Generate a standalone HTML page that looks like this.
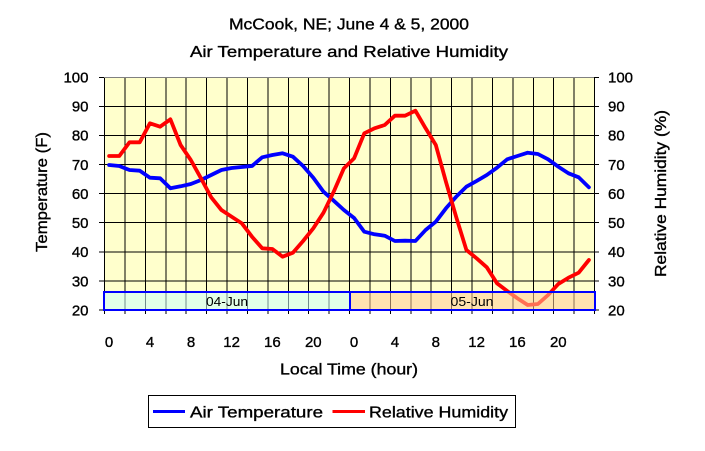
<!DOCTYPE html>
<html><head><meta charset="utf-8"><style>
html,body{margin:0;padding:0;background:#fff;}
svg{display:block;}
text{font-family:"Liberation Sans",Arial,sans-serif;fill:#000;}
.b{stroke:#000;stroke-width:0.35;}
</style></head><body>
<svg width="705" height="451" viewBox="0 0 705 451" xmlns="http://www.w3.org/2000/svg">
<rect width="705" height="451" fill="#fff"/>
<!-- Title -->
<text class="b" x="349" y="29.5" font-size="16" text-anchor="middle" textLength="240" lengthAdjust="spacingAndGlyphs">McCook, NE; June 4 &amp; 5, 2000</text>
<text class="b" x="349" y="57" font-size="16" text-anchor="middle" textLength="318" lengthAdjust="spacingAndGlyphs">Air Temperature and Relative Humidity</text>
<!-- plot bg -->
<rect x="104" y="77" width="490" height="233" fill="#ffffcc"/>
<g stroke="#000" stroke-width="1" shape-rendering="crispEdges">
<line x1="104" x2="594" y1="106.5" y2="106.5"/>
<line x1="104" x2="594" y1="135.5" y2="135.5"/>
<line x1="104" x2="594" y1="164.5" y2="164.5"/>
<line x1="104" x2="594" y1="193.5" y2="193.5"/>
<line x1="104" x2="594" y1="222.5" y2="222.5"/>
<line x1="104" x2="594" y1="252" y2="252"/>
<line x1="104" x2="594" y1="281" y2="281"/>
<line x1="124.9" x2="124.9" y1="77" y2="314"/>
<line x1="145.3" x2="145.3" y1="77" y2="314"/>
<line x1="165.8" x2="165.8" y1="77" y2="314"/>
<line x1="186.2" x2="186.2" y1="77" y2="314"/>
<line x1="206.6" x2="206.6" y1="77" y2="314"/>
<line x1="227" x2="227" y1="77" y2="314"/>
<line x1="247.4" x2="247.4" y1="77" y2="314"/>
<line x1="267.8" x2="267.8" y1="77" y2="314"/>
<line x1="288.3" x2="288.3" y1="77" y2="314"/>
<line x1="308.7" x2="308.7" y1="77" y2="314"/>
<line x1="329.1" x2="329.1" y1="77" y2="314"/>
<line x1="349.5" x2="349.5" y1="77" y2="314"/>
<line x1="369.9" x2="369.9" y1="77" y2="314"/>
<line x1="390.3" x2="390.3" y1="77" y2="314"/>
<line x1="410.8" x2="410.8" y1="77" y2="314"/>
<line x1="431.2" x2="431.2" y1="77" y2="314"/>
<line x1="451.6" x2="451.6" y1="77" y2="314"/>
<line x1="472" x2="472" y1="77" y2="314"/>
<line x1="492.4" x2="492.4" y1="77" y2="314"/>
<line x1="512.8" x2="512.8" y1="77" y2="314"/>
<line x1="533.3" x2="533.3" y1="77" y2="314"/>
<line x1="553.7" x2="553.7" y1="77" y2="314"/>
<line x1="574.1" x2="574.1" y1="77" y2="314"/>
<line x1="104.5" x2="104.5" y1="77" y2="314"/>
<line x1="594.5" x2="594.5" y1="77" y2="314"/>
<line x1="99" x2="104" y1="77.5" y2="77.5"/>
<line x1="99" x2="104" y1="106.5" y2="106.5"/>
<line x1="99" x2="104" y1="135.5" y2="135.5"/>
<line x1="99" x2="104" y1="164.5" y2="164.5"/>
<line x1="99" x2="104" y1="193.5" y2="193.5"/>
<line x1="99" x2="104" y1="222.5" y2="222.5"/>
<line x1="99" x2="104" y1="252" y2="252"/>
<line x1="99" x2="104" y1="281" y2="281"/>
<line x1="99" x2="104" y1="310" y2="310"/>
<line x1="594" x2="599" y1="77.5" y2="77.5"/>
<line x1="594" x2="599" y1="106.5" y2="106.5"/>
<line x1="594" x2="599" y1="135.5" y2="135.5"/>
<line x1="594" x2="599" y1="164.5" y2="164.5"/>
<line x1="594" x2="599" y1="193.5" y2="193.5"/>
<line x1="594" x2="599" y1="222.5" y2="222.5"/>
<line x1="594" x2="599" y1="252" y2="252"/>
<line x1="594" x2="599" y1="281" y2="281"/>
<line x1="594" x2="599" y1="310" y2="310"/>
</g>
<line x1="104" x2="594" y1="77.5" y2="77.5" stroke="#808080" stroke-width="1" shape-rendering="crispEdges"/>
<!-- series -->
<polyline fill="none" stroke="#0000ff" stroke-width="3.8" stroke-linejoin="round" stroke-linecap="round" points="109.1,165 119.3,166 129.5,170 139.7,170.7 149.9,177.7 160.1,178.3 170.4,188.3 180.6,186.3 190.8,184 201,180 211.2,175 221.4,170 231.6,168 241.8,167 252,166 262.2,157.3 272.4,155 282.6,153.3 292.9,156.7 303.1,166 313.3,177.7 323.5,191.7 333.7,200.7 343.9,210 354.1,218 364.3,231.7 374.5,234.3 384.7,235.7 394.9,241 405.1,240.7 415.4,241 425.6,230 435.8,221.7 446,208.3 456.2,196.7 466.4,186.7 476.6,181 486.8,175 497,167.7 507.2,159.3 517.4,156 527.7,152.7 537.9,154 548.1,159.3 558.3,166.7 568.5,173.3 578.7,177.3 588.9,187.3"/>
<polyline fill="none" stroke="#ff0000" stroke-width="3.8" stroke-linejoin="round" stroke-linecap="round" points="109.1,156 119.3,156 129.5,142.3 139.7,142.3 149.9,123.3 160.1,126.7 170.4,119.3 180.6,145 190.8,160 201,178.3 211.2,197.3 221.4,210 231.6,216.7 241.8,223.3 252,236.7 262.2,248.3 272.4,249 282.6,256.7 292.9,252.7 303.1,241 313.3,228.3 323.5,212.7 333.7,191.7 343.9,168.3 354.1,158.3 364.3,133.3 374.5,128.3 384.7,125 394.9,115.7 405.1,115.7 415.4,110.7 425.6,128.3 435.8,145 446,182 456.2,217 466.4,250 476.6,258.3 486.8,267.3 497,283.3 507.2,291 517.4,298.3 527.7,305 537.9,304 548.1,295 558.3,284 568.5,277.7 578.7,272.7 588.9,260"/>
<!-- date band -->
<rect x="104" y="292" width="246" height="18" fill="#ccffff" fill-opacity="0.55"/>
<rect x="350" y="292" width="245" height="18" fill="#ffcc99" fill-opacity="0.55"/>
<rect x="104" y="292" width="491" height="18" fill="none" stroke="#0000ff" stroke-width="2"/>
<line x1="350" x2="350" y1="292" y2="310" stroke="#0000ff" stroke-width="2"/>
<text x="227" y="306" font-size="12.5" text-anchor="middle" textLength="42" lengthAdjust="spacingAndGlyphs" fill="#222">04-Jun</text>
<text x="472" y="306" font-size="12.5" text-anchor="middle" textLength="43" lengthAdjust="spacingAndGlyphs" fill="#222">05-Jun</text>
<!-- left labels -->
<g font-size="15" text-anchor="end" class="b">
<text x="88.5" y="82.5">100</text>
<text x="88.5" y="111.6">90</text>
<text x="88.5" y="140.7">80</text>
<text x="88.5" y="169.9">70</text>
<text x="88.5" y="199">60</text>
<text x="88.5" y="228.1">50</text>
<text x="88.5" y="257.2">40</text>
<text x="88.5" y="286.4">30</text>
<text x="88.5" y="315.5">20</text>
</g>
<g font-size="15" text-anchor="start" class="b">
<text x="608" y="82.5">100</text>
<text x="608" y="111.6">90</text>
<text x="608" y="140.7">80</text>
<text x="608" y="169.9">70</text>
<text x="608" y="199">60</text>
<text x="608" y="228.1">50</text>
<text x="608" y="257.2">40</text>
<text x="608" y="286.4">30</text>
<text x="608" y="315.5">20</text>
</g>
<!-- x labels -->
<g font-size="15" text-anchor="middle" class="b">
<text x="109" y="347">0</text>
<text x="150" y="347">4</text>
<text x="191" y="347">8</text>
<text x="231.6" y="347">12</text>
<text x="272.4" y="347">16</text>
<text x="313.3" y="347">20</text>
<text x="354" y="347">0</text>
<text x="394.9" y="347">4</text>
<text x="435.8" y="347">8</text>
<text x="476.6" y="347">12</text>
<text x="517.4" y="347">16</text>
<text x="558.3" y="347">20</text>
</g>
<text class="b" x="349" y="374.5" font-size="16" text-anchor="middle" textLength="138" lengthAdjust="spacingAndGlyphs">Local Time (hour)</text>
<text class="b" transform="translate(47,192) rotate(-90)" x="0" y="0" font-size="16" text-anchor="middle" textLength="120" lengthAdjust="spacingAndGlyphs">Temperature (F)</text>
<text class="b" transform="translate(666,193.5) rotate(-90)" x="0" y="0" font-size="16" text-anchor="middle" textLength="167" lengthAdjust="spacingAndGlyphs">Relative Humidity (%)</text>
<!-- legend -->
<rect x="148.5" y="395.5" width="367" height="32" fill="#fff" stroke="#000" stroke-width="1" shape-rendering="crispEdges"/>
<line x1="153" x2="185" y1="411.5" y2="411.5" stroke="#0000ff" stroke-width="3"/>
<text class="b" x="190" y="417.7" font-size="16" textLength="133" lengthAdjust="spacingAndGlyphs">Air Temperature</text>
<line x1="332.5" x2="365" y1="411.5" y2="411.5" stroke="#ff0000" stroke-width="3"/>
<text class="b" x="369" y="417.7" font-size="16" textLength="139" lengthAdjust="spacingAndGlyphs">Relative Humidity</text>
</svg>
</body></html>
